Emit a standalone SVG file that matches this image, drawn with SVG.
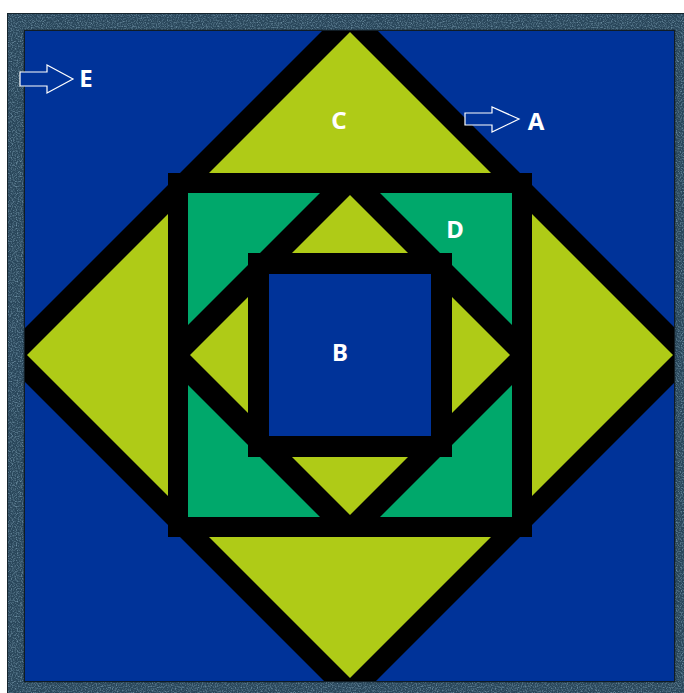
<svg xmlns="http://www.w3.org/2000/svg" width="684" height="693" viewBox="0 0 684 693">
  <defs>
    <style>
      .lbl { font-family: "Noto Sans", "Liberation Sans", sans-serif; font-weight: bold; font-size: 24px; fill: #ffffff; text-anchor: middle; }
      .arrow { fill: #003399; stroke: #ffffff; stroke-width: 1.2; }
      .black { fill: #000000; }
      .lime { fill: #afcb17; }
      .green { fill: #00a86b; }
      .blue { fill: #003399; }
    </style>
    <filter id="grain" x="0" y="0" width="100%" height="100%">
      <feTurbulence type="fractalNoise" baseFrequency="0.8" numOctaves="2" seed="3" result="n"/>
      <feColorMatrix in="n" type="matrix" values="0 0 0 0 0.26  0 0 0 0 0.43  0 0 0 0 0.55  0 0 0 1.6 -0.7" result="c"/>
      <feComposite in="c" in2="SourceGraphic" operator="in"/>
    </filter>
    <clipPath id="bigDiamond">
      <polygon points="350,3 702,355 350,707 -2,355"/>
    </clipPath>
    <clipPath id="innerSquare">
      <rect x="168" y="173" width="364" height="364"/>
    </clipPath>
    <clipPath id="field">
      <rect x="25" y="31" width="649" height="650"/>
    </clipPath>
  </defs>

  <rect x="0" y="0" width="684" height="693" fill="#ffffff"/>

  <g id="frame">
    <rect x="7" y="13" width="677" height="680" fill="#29465a"/>
    <rect x="7" y="13" width="677" height="680" fill="#29465a" filter="url(#grain)"/>
    <rect x="7.5" y="13.5" width="677" height="680" fill="none" stroke="#16252e" stroke-width="1"/>
    <rect x="24.5" y="30.5" width="650" height="651" fill="none" stroke="#101c24" stroke-width="1.5"/>
  </g>

  <g id="field-group" clip-path="url(#field)">
    <rect class="blue" x="25" y="31" width="649" height="650"/>
    <g id="outer-diamond">
      <polygon class="black" points="350,3 702,355 350,707 -2,355"/>
      <polygon class="lime" points="350,32 673,355 350,678 27,355"/>
    </g>
    <g id="square-ring" clip-path="url(#bigDiamond)">
      <rect class="black" x="168" y="173" width="364" height="364"/>
      <rect class="green" x="188" y="193" width="324" height="324"/>
    </g>
    <g id="inner-diamond" clip-path="url(#innerSquare)">
      <polygon class="black" points="350,163 542,355 350,547 158,355"/>
      <rect class="black" x="168" y="173" width="20" height="364"/>
      <rect class="black" x="512" y="173" width="20" height="364"/>
      <rect class="black" x="168" y="173" width="364" height="20"/>
      <rect class="black" x="168" y="517" width="364" height="20"/>
      <polygon class="lime" points="350,195 510,355 350,515 190,355"/>
    </g>
    <g id="center-square">
      <rect class="black" x="248" y="253" width="204" height="204"/>
      <rect class="blue" x="269" y="274" width="162" height="162"/>
    </g>
  </g>

  <g id="labels">
    <text class="lbl" x="339" y="129">C</text>
    <text class="lbl" x="455" y="238">D</text>
    <text class="lbl" x="340" y="361">B</text>
  </g>

  <g id="arrow-A">
    <polygon class="arrow" points="465,113 492,113 492,107 519,119 492,132 492,125 465,125"/>
    <text class="lbl" x="536" y="130">A</text>
  </g>
  <g id="arrow-E">
    <polygon class="arrow" points="20,72 47,72 47,65 73,79 47,93 47,86 20,86"/>
    <text class="lbl" x="86" y="87">E</text>
  </g>
</svg>
